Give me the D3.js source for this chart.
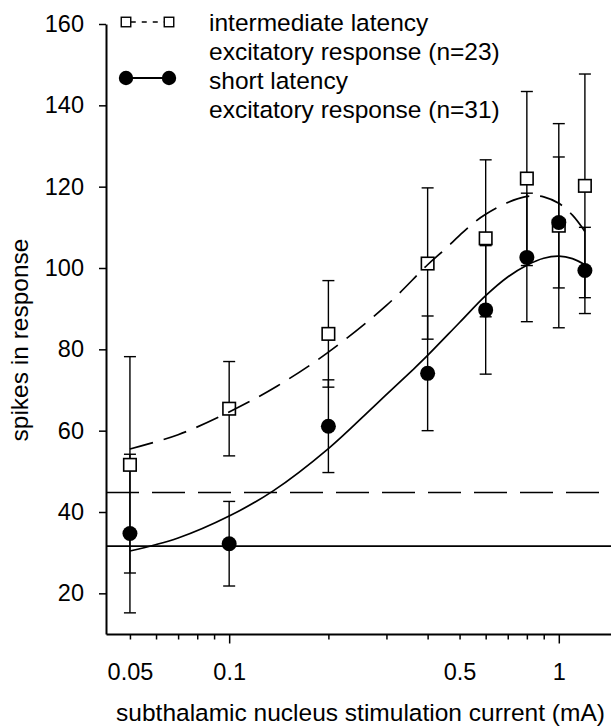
<!DOCTYPE html>
<html>
<head>
<meta charset="utf-8">
<script src="https://cdn.jsdelivr.net/npm/d3@7/dist/d3.min.js"></script>
<style>
  html, body { margin: 0; padding: 0; background: #fff; }
  svg { display: block; }
  text { font-family: "Liberation Sans", Arial, Helvetica, sans-serif; fill: #000; }
</style>
</head>
<body>
<svg id="chart" width="611" height="728"></svg>
<script>
// ---- data ----
const currents   = [0.05, 0.1, 0.2, 0.4, 0.6, 0.8, 1.0, 1.2];
const interMean  = [51.6, 65.4, 83.8, 101.1, 107.3, 122.0, 110.4, 120.2];
const interErr   = [26.6, 11.6, 13.1, 18.6, 19.3, 21.4, 25.1, 27.5];
const shortMean  = [34.7, 32.2, 61.1, 74.1, 89.7, 102.6, 111.2, 99.4];
const shortErr   = [19.5, 10.4, 11.4, 14.1, 15.8, 15.8, 16.1, 10.6];

// fitted curves, points
const interFitX  = [0.05, 0.07, 0.1, 0.14, 0.2, 0.3, 0.4, 0.45, 0.5, 0.55, 0.6, 0.7, 0.8, 0.85, 0.9, 1.0, 1.1, 1.2];
const interFitY  = [55.5, 59.0, 64.6, 71.0, 79.3, 90.8, 100.8, 104.5, 108.0, 111.0, 113.2, 116.1, 117.6, 117.7, 117.5, 115.9, 113.0, 109.0];
const shortFitX  = [0.05, 0.07, 0.1, 0.136, 0.2, 0.275, 0.36, 0.4, 0.5, 0.6, 0.7, 0.8, 0.9, 1.0, 1.1, 1.2];
const shortFitY  = [30.4, 33.6, 39.0, 45.2, 55.6, 66.0, 74.9, 78.5, 86.6, 93.2, 97.8, 100.7, 102.4, 102.9, 102.3, 100.8];

// baseline (spontaneous) levels
const interBaseline = 44.8;
const shortBaseline = 31.6;

const yTicks      = [20, 40, 60, 80, 100, 120, 140, 160];
const xTickValues = [0.05, 0.06, 0.07, 0.08, 0.09, 0.1, 0.2, 0.3, 0.4, 0.5, 0.6, 0.7, 0.8, 0.9, 1];
const xMajor      = [0.1, 1];
const xLabelled   = [0.05, 0.1, 0.5, 1];
const xDomain     = [0.0423, 1.44];
const yDomain     = [10, 160];

const legendLabels = [
  ["intermediate latency", "excitatory response (n=23)"],
  ["short latency", "excitatory response (n=31)"]
];
const xTitle = "subthalamic nucleus stimulation current (mA)";
const yTitle = "spikes in response";

// ---- layout ----
const svg = d3.select("#chart");
const M = { left: 106, right: 611, top: 24, bottom: 634 };
const FONT = 24.5, TICKFONT = 23.5;

const x = d3.scaleLog().domain(xDomain).range([M.left, M.right]);
const y = d3.scaleLinear().domain(yDomain).range([M.bottom, M.top]);

// axes
const yAxis = d3.axisLeft(y).tickValues(yTicks).tickSize(7).tickSizeOuter(0).tickPadding(15)
  .tickFormat(d3.format("d"));
const gy = svg.append("g").attr("transform", `translate(${M.left},0)`).call(yAxis);
gy.attr("font-family", null).attr("font-size", TICKFONT);
gy.select(".domain").attr("stroke-width", 2);
gy.selectAll(".tick line").attr("stroke-width", 1.5);

const xAxis = d3.axisBottom(x).tickValues(xTickValues).tickSize(5.5).tickSizeOuter(0)
  .tickFormat(d => xLabelled.includes(d) ? String(d) : "");
const gx = svg.append("g").attr("transform", `translate(0,${M.bottom})`).call(xAxis);
gx.attr("font-family", null).attr("font-size", TICKFONT);
gx.select(".domain").attr("stroke-width", 2);
gx.selectAll(".tick line").attr("stroke-width", 1.5)
  .attr("y2", d => xMajor.includes(d) ? 9.5 : 5.5);
gx.selectAll(".tick text").attr("y", 46).attr("dy", 0);
svg.selectAll(".domain").attr("stroke", "#000");
svg.selectAll(".tick line").attr("stroke", "#000");

// titles
svg.append("text").attr("x", (M.left + M.right) / 2 + 2).attr("y", 721)
  .attr("text-anchor", "middle").attr("font-size", FONT).text(xTitle);
svg.append("text").attr("transform", `translate(28,340) rotate(-90)`)
  .attr("text-anchor", "middle").attr("font-size", FONT).text(yTitle);

// baseline lines
svg.append("line").attr("x1", M.left).attr("x2", M.right)
  .attr("y1", y(interBaseline)).attr("y2", y(interBaseline))
  .attr("stroke", "#000").attr("stroke-width", 1.6).attr("stroke-dasharray", "33,13");
svg.append("line").attr("x1", M.left).attr("x2", M.right)
  .attr("y1", y(shortBaseline)).attr("y2", y(shortBaseline))
  .attr("stroke", "#000").attr("stroke-width", 1.6);

// error bars
const CAP = 6;
function errorBars(means, errs) {
  const g = svg.append("g").attr("stroke", "#000").attr("stroke-width", 1.4);
  currents.forEach((c, i) => {
    const cx = x(c), hi = y(means[i] + errs[i]), lo = y(means[i] - errs[i]);
    g.append("line").attr("x1", cx).attr("x2", cx).attr("y1", hi).attr("y2", lo);
    g.append("line").attr("x1", cx - CAP).attr("x2", cx + CAP).attr("y1", hi).attr("y2", hi);
    g.append("line").attr("x1", cx - CAP).attr("x2", cx + CAP).attr("y1", lo).attr("y2", lo);
  });
}
errorBars(interMean, interErr);
errorBars(shortMean, shortErr);

// squares (intermediate)
const SQ = 12.5;
svg.append("g").selectAll("rect").data(currents).join("rect")
  .attr("x", (d) => x(d) - SQ / 2)
  .attr("y", (d, i) => y(interMean[i]) - SQ / 2)
  .attr("width", SQ).attr("height", SQ)
  .attr("fill", "#fff").attr("stroke", "#000").attr("stroke-width", 1.6);

// fitted curves
const line = d3.line().x(d => x(d[0])).y(d => y(d[1])).curve(d3.curveCatmullRom.alpha(0.5));
svg.append("path").datum(d3.zip(interFitX, interFitY)).attr("d", line)
  .attr("fill", "none").attr("stroke", "#000").attr("stroke-width", 1.7)
  .attr("stroke-dasharray", "24,11");
svg.append("path").datum(d3.zip(shortFitX, shortFitY)).attr("d", line)
  .attr("fill", "none").attr("stroke", "#000").attr("stroke-width", 1.7);

// circles (short)
svg.append("g").selectAll("circle").data(currents).join("circle")
  .attr("cx", d => x(d)).attr("cy", (d, i) => y(shortMean[i])).attr("r", 7.5)
  .attr("fill", "#000");

// legend
const lg = svg.append("g");
const lx1 = 126, lx2 = 169, ly1 = 22, ly2 = 78, LSQ = 9.5;
lg.append("line").attr("x1", lx1 + LSQ / 2).attr("x2", lx2 - LSQ / 2).attr("y1", ly1).attr("y2", ly1)
  .attr("stroke", "#000").attr("stroke-width", 1.5).attr("stroke-dasharray", "5,6");
[lx1, lx2].forEach(cx => lg.append("rect").attr("x", cx - LSQ / 2).attr("y", ly1 - LSQ / 2)
  .attr("width", LSQ).attr("height", LSQ).attr("fill", "#fff").attr("stroke", "#000").attr("stroke-width", 1.4));
lg.append("line").attr("x1", lx1).attr("x2", lx2).attr("y1", ly2).attr("y2", ly2)
  .attr("stroke", "#000").attr("stroke-width", 1.8);
[lx1, lx2].forEach(cx => lg.append("circle").attr("cx", cx).attr("cy", ly2).attr("r", 7.2).attr("fill", "#000"));
const textBase = [30.5, 59.5, 88.5, 117.5];
legendLabels.flat().forEach((t, i) => {
  lg.append("text").attr("x", 209).attr("y", textBase[i]).attr("font-size", FONT).text(t);
});
</script>
</body>
</html>
